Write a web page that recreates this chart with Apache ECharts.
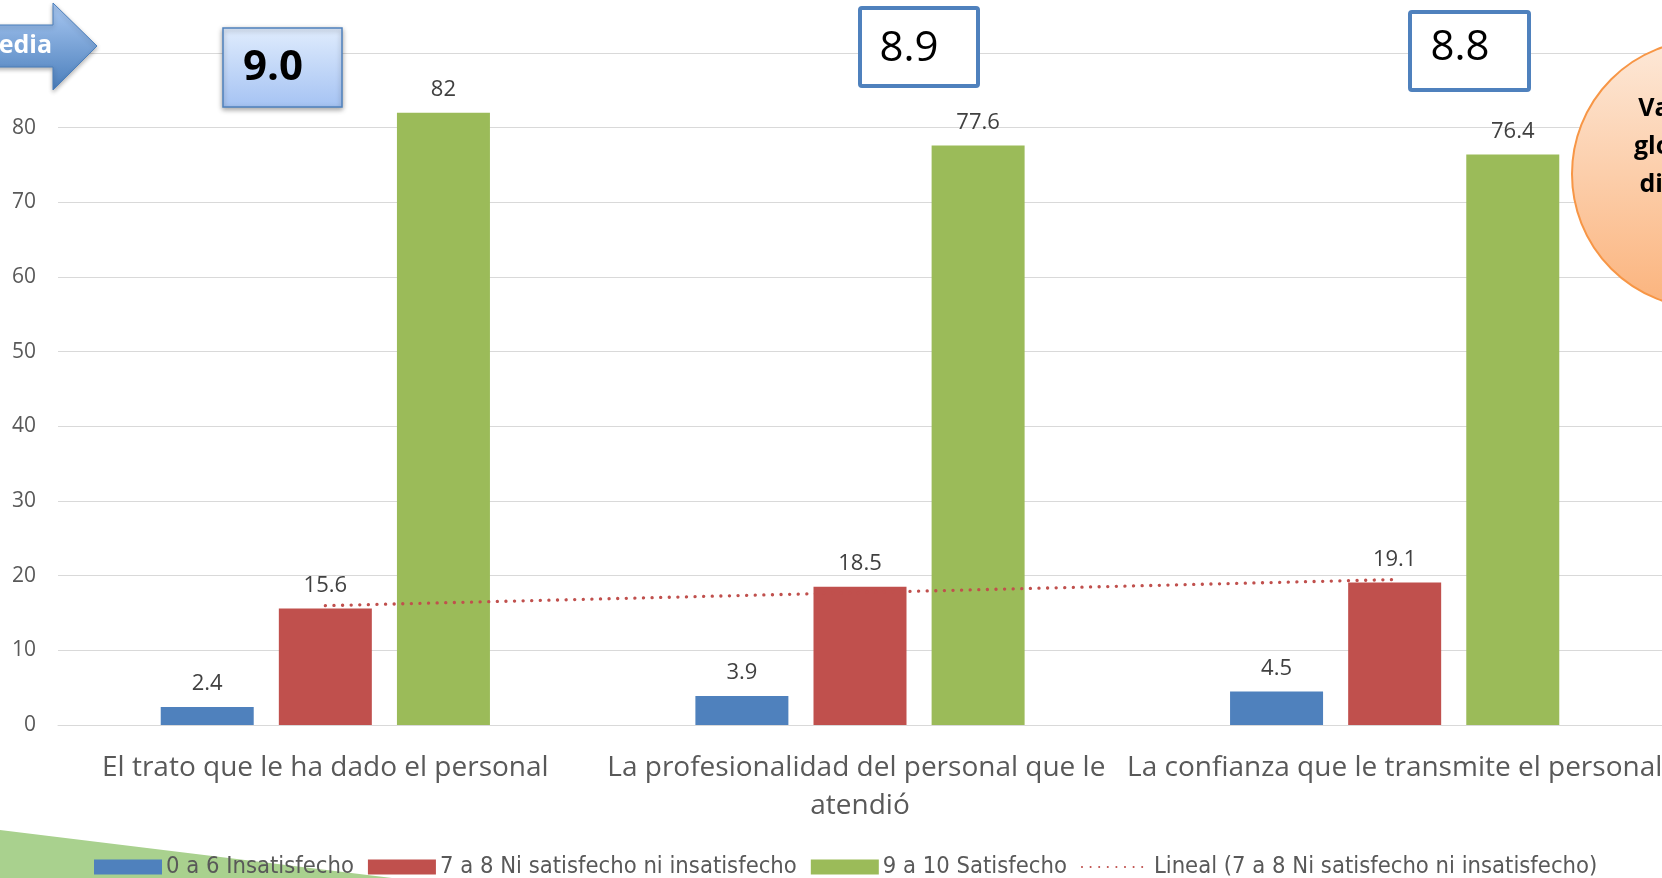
<!DOCTYPE html>
<html><head><meta charset="utf-8">
<script src="https://cdn.jsdelivr.net/npm/echarts@6/dist/echarts.min.js"></script>
<style>html,body{margin:0;padding:0;background:#fff;overflow:hidden}#c{width:1662px;height:878px}</style>
</head><body><div id="c"></div>
<script>
// ---- data ----
const categories = [
  'El trato que le ha dado el personal',
  'La profesionalidad del personal que le atendió',
  'La confianza que le transmite el personal'
];
const seriesNames = [
  '0 a 6 Insatisfecho',
  '7 a 8 Ni satisfecho ni insatisfecho',
  '9 a 10 Satisfecho',
  'Lineal (7 a 8 Ni satisfecho ni insatisfecho)'
];
const insatisfecho = [2.4, 3.9, 4.5];
const neutral = [15.6, 18.5, 19.1];
const satisfecho = [82, 77.6, 76.4];
const medias = ['9.0', '8.9', '8.8'];
const yMin = 0, yMax = 90, yStep = 10;
const arrowText = 'Media';
const circleText = 'Valoración\nglobal de la\ndimensión';

// linear trend (least squares) of the middle series, like Excel's "Lineal"
function linearTrend(vals) {
  const n = vals.length;
  const xs = vals.map((_, i) => i + 1);
  const mx = xs.reduce((a, b) => a + b, 0) / n;
  const my = vals.reduce((a, b) => a + b, 0) / n;
  let num = 0, den = 0;
  for (let i = 0; i < n; i++) { num += (xs[i] - mx) * (vals[i] - my); den += (xs[i] - mx) ** 2; }
  const b = num / den, a = my - b * mx;
  return xs.map(x => +(a + b * x).toFixed(3));
}
const trend = linearTrend(neutral);

const chart = echarts.init(document.getElementById('c'));
const labelStyle = { show: true, position: 'top', distance: 12, color: '#404040', fontSize: 22, fontFamily: 'Open Sans' };

chart.setOption({
  animation: false,
  backgroundColor: '#ffffff',
  grid: { left: 58, right: 0, top: 53, bottom: 153, containLabel: false, outerBoundsMode: 'none' },
  xAxis: {
    type: 'category', data: categories,
    axisLine: { show: true, lineStyle: { color: '#d9d9d9', width: 1 } },
    axisTick: { show: false },
    axisLabel: { color: '#595959', fontSize: 28, fontFamily: 'Open Sans', margin: 24, lineHeight: 38,
      width: 550, overflow: 'break', interval: 0, hideOverlap: false }
  },
  yAxis: {
    type: 'value', min: yMin, max: yMax, interval: yStep,
    axisLine: { show: false }, axisTick: { show: false },
    axisLabel: { color: '#595959', fontSize: 21, fontFamily: 'Open Sans', margin: 22,
      formatter: v => (v === yMax ? '' : v) },
    splitLine: { lineStyle: { color: '#d9d9d9', width: 1 } }
  },
  legend: {
    left: 89, top: 850, itemWidth: 68, itemHeight: 15, itemGap: 14,
    textStyle: { color: '#595959', fontSize: 23.6, fontFamily: 'Liberation Sans Narrow, DejaVu Sans Condensed, sans-serif', padding: [0, 0, 0, -1] },
    data: seriesNames.map((n, i) => i < 3 ? { name: n, icon: 'rect' } : { name: n, itemStyle: { opacity: 0 } })
  },
  series: [
    { name: seriesNames[0], type: 'bar', data: insatisfecho, barWidth: 93, barGap: '27%',
      itemStyle: { color: '#4F81BD' }, label: labelStyle },
    { name: seriesNames[1], type: 'bar', data: neutral, barWidth: 93, barGap: '27%',
      itemStyle: { color: '#C0504D' }, label: labelStyle },
    { name: seriesNames[2], type: 'bar', data: satisfecho, barWidth: 93, barGap: '27%',
      itemStyle: { color: '#9BBB59' }, label: labelStyle },
    { name: seriesNames[3], type: 'line', data: trend, symbol: 'none', z: 5,
      lineStyle: { color: '#C0504D', width: 3.3, type: [0.1, 8.5], cap: 'round' }, itemStyle: { color: '#C0504D' } }
  ],
  graphic: [
    { type: 'polygon', z: -10, silent: true,
      shape: { points: [[0, 830], [392, 878], [0, 878]] }, style: { fill: '#A9D18E' } },
    // arrow "Media"
    { type: 'polygon', z: 10, silent: true,
      shape: { points: [[-80, 25], [53, 25], [53, 3], [97, 46], [53, 90], [53, 67], [-80, 67]] },
      style: { fill: new echarts.graphic.LinearGradient(0, 0, 0, 1, [
        { offset: 0, color: '#a9c8f2' }, { offset: 1, color: '#4a7ebb' }]),
        stroke: '#4a7ebb', lineWidth: 1, shadowBlur: 4, shadowColor: 'rgba(0,0,0,0.3)', shadowOffsetY: 2 } },
    { type: 'text', z: 11, silent: true, x: 52, y: 46,
      style: { text: arrowText, fill: '#ffffff', font: 'bold 25px "Open Sans"', align: 'right', verticalAlign: 'middle' } },
    // box 9.0
    { type: 'rect', z: 10, silent: true, shape: { x: 223, y: 28, width: 119, height: 79 },
      style: { fill: new echarts.graphic.LinearGradient(0, 0, 0, 1, [
        { offset: 0, color: '#e0ecfd' }, { offset: 1, color: '#a5c3f3' }]),
        stroke: '#4f81bd', lineWidth: 1.5, shadowBlur: 5, shadowColor: 'rgba(0,0,0,0.35)', shadowOffsetY: 2 } },
    { type: 'text', z: 11, silent: true, x: 273, y: 68,
      style: { text: medias[0], fill: '#000', font: 'bold 42px "Open Sans"', align: 'center', verticalAlign: 'middle' } },
    // box 8.9
    { type: 'rect', z: 10, silent: true, shape: { x: 860, y: 8, width: 118, height: 78, r: 2 },
      style: { fill: '#fff', stroke: '#4f81bd', lineWidth: 4 } },
    { type: 'text', z: 11, silent: true, x: 909, y: 49,
      style: { text: medias[1], fill: '#000', font: '42px "Open Sans"', align: 'center', verticalAlign: 'middle' } },
    // box 8.8
    { type: 'rect', z: 10, silent: true, shape: { x: 1410, y: 12, width: 119, height: 78, r: 2 },
      style: { fill: '#fff', stroke: '#4f81bd', lineWidth: 4 } },
    { type: 'text', z: 11, silent: true, x: 1460, y: 48,
      style: { text: medias[2], fill: '#000', font: '42px "Open Sans"', align: 'center', verticalAlign: 'middle' } },
    // orange circle
    { type: 'circle', z: 10, silent: true, shape: { cx: 1706, cy: 174, r: 134 },
      style: { fill: new echarts.graphic.LinearGradient(0, 0, 0, 1, [
        { offset: 0, color: '#fde9d9' }, { offset: 1, color: '#fbb37c' }]),
        stroke: '#f79646', lineWidth: 2 } },
    { type: 'text', z: 11, silent: true, x: 1705, y: 147,
      style: { text: circleText, fill: '#000', font: 'bold 25px "Open Sans"', lineHeight: 38, align: 'center', verticalAlign: 'middle' } }
  ]
});
</script>
</body></html>
